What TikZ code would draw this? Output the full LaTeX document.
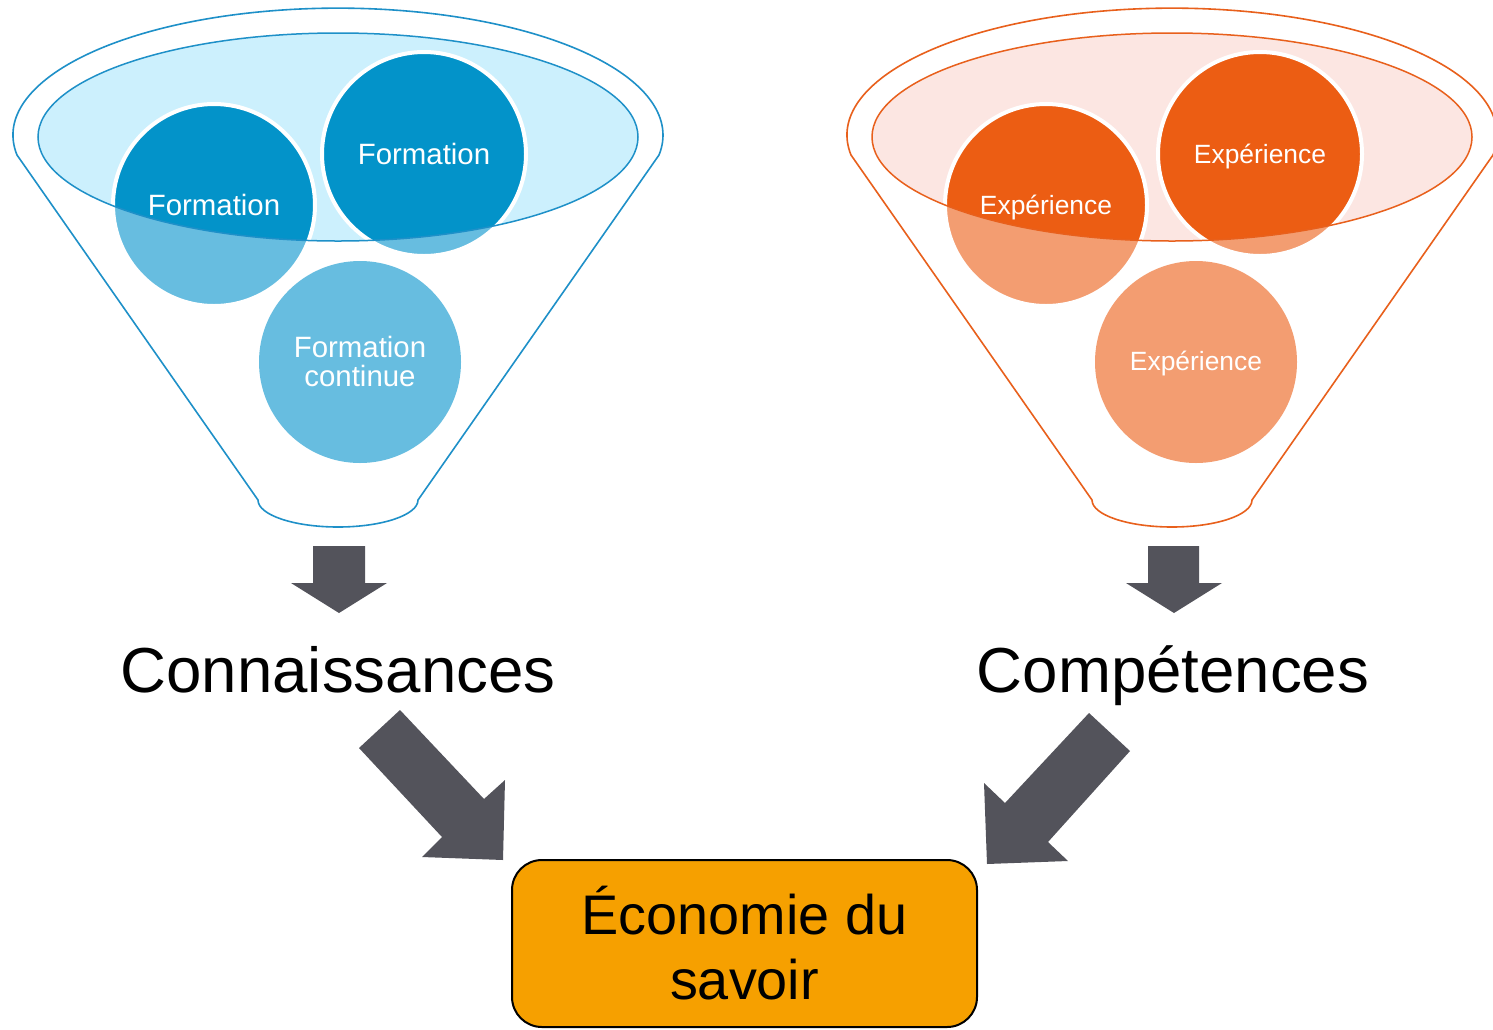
\documentclass[tikz,border=0pt]{standalone}
\usepackage{fontspec}
\setmainfont{Liberation Sans}
\definecolor{bluefill}{HTML}{CCF0FD}
\definecolor{bluelight}{HTML}{67BDE0}
\definecolor{bluedark}{HTML}{0393C9}
\definecolor{blueline}{HTML}{1E90C8}
\definecolor{orfill}{HTML}{FCE6E2}
\definecolor{orlight}{HTML}{F39D71}
\definecolor{ordark}{HTML}{EC5D13}
\definecolor{orline}{HTML}{E8601C}
\definecolor{arrowgray}{HTML}{53535B}
\definecolor{boxorange}{HTML}{F6A000}
\newcommand{\drawfunnel}[6]{%
\begin{scope}[shift={(#1,0)}]
 \coordinate (cA) at (214-#6,205);
 \coordinate (cB) at (424+#6,154);
 \coordinate (cC) at (360+#6,362);
 \fill[#2] (338,137) ellipse[x radius=300,y radius=104];
 \fill[#3] (cA) circle[radius=101] (cB) circle[radius=102] (cC) circle[radius=101];
 \begin{scope}
  \clip (338,137) ellipse[x radius=300,y radius=104];
  \fill[#4] (cA) circle[radius=101] (cB) circle[radius=102];
 \end{scope}
 \draw[white,line width=2pt] (cA) circle[radius=101] (cB) circle[radius=102];
 \draw[#5,line width=0.75pt] (338,137) ellipse[x radius=300,y radius=104];
 \draw[#5,line width=0.8pt] (17,155) arc[start angle=171,end angle=369,x radius=325,y radius=127]
   -- (418,500) arc[start angle=0,end angle=180,x radius=80,y radius=27] -- cycle;
\end{scope}}
\begin{document}
\begin{tikzpicture}[x=0.5pt,y=-0.5pt,
  circtext/.style={text=white,font=\fontsize{14.7}{15}\selectfont,anchor=base,inner sep=0pt,align=center},
  exptext/.style={text=white,font=\fontsize{13.2}{15}\selectfont,anchor=base,inner sep=0pt},
  bigtext/.style={font=\fontsize{31.8}{36}\selectfont,anchor=base,inner sep=0pt},
  blockarrow/.style={fill=arrowgray}]
\useasboundingbox (0,0) rectangle (1493,1029);
\clip (0,0) rectangle (1493,1029);
\fill[white] (0,0) rectangle (1493,1029);

\drawfunnel{0}{bluefill}{bluelight}{bluedark}{blueline}{0}
\drawfunnel{834}{orfill}{orlight}{ordark}{orline}{2}

\node[circtext] (fa) at (214,215.5) {Formation};
\node[circtext] (fb) at (424,164.5) {Formation};
\node[circtext] (fc) at (360,386.5) {Formation\\[-0.5pt]continue};
\node[exptext] (ea) at (1046,214.5) {Expérience};
\node[exptext] (eb) at (1260,163.5) {Expérience};
\node[exptext] (ec) at (1196,370.5) {Expérience};

% down arrows
\fill[blockarrow] (313,546) -- (365,546) -- (365,583) -- (387,583) -- (339,613) -- (291,583) -- (313,583) -- cycle;
\fill[blockarrow] (1148,546) -- (1199,546) -- (1199,583) -- (1222,583) -- (1174,613) -- (1126,583) -- (1148,583) -- cycle;

\node[bigtext] (conn) at (338,692) {Connaissances};
\node[bigtext] (comp) at (1173,692) {Compétences};

% diagonal arrows
\fill[blockarrow] (400,710) -- (484,799) -- (505,780) -- (503,860) -- (422,857) -- (442,837) -- (359,748) -- cycle;
\fill[blockarrow] (1089,713) -- (1130,751) -- (1048,842) -- (1068,861) -- (987,864) -- (984,783) -- (1005,803) -- cycle;

\node[draw=black,line width=1pt,fill=boxorange,rounded corners=15pt,minimum width=232.5pt,minimum height=83.5pt,inner sep=0pt] (box) at (744.5,943.5) {};
\node[font=\fontsize{27.9}{32.5}\selectfont,align=center,inner sep=0pt] (eco) at (box.center) {Économie du\\savoir};
\end{tikzpicture}
\end{document}
